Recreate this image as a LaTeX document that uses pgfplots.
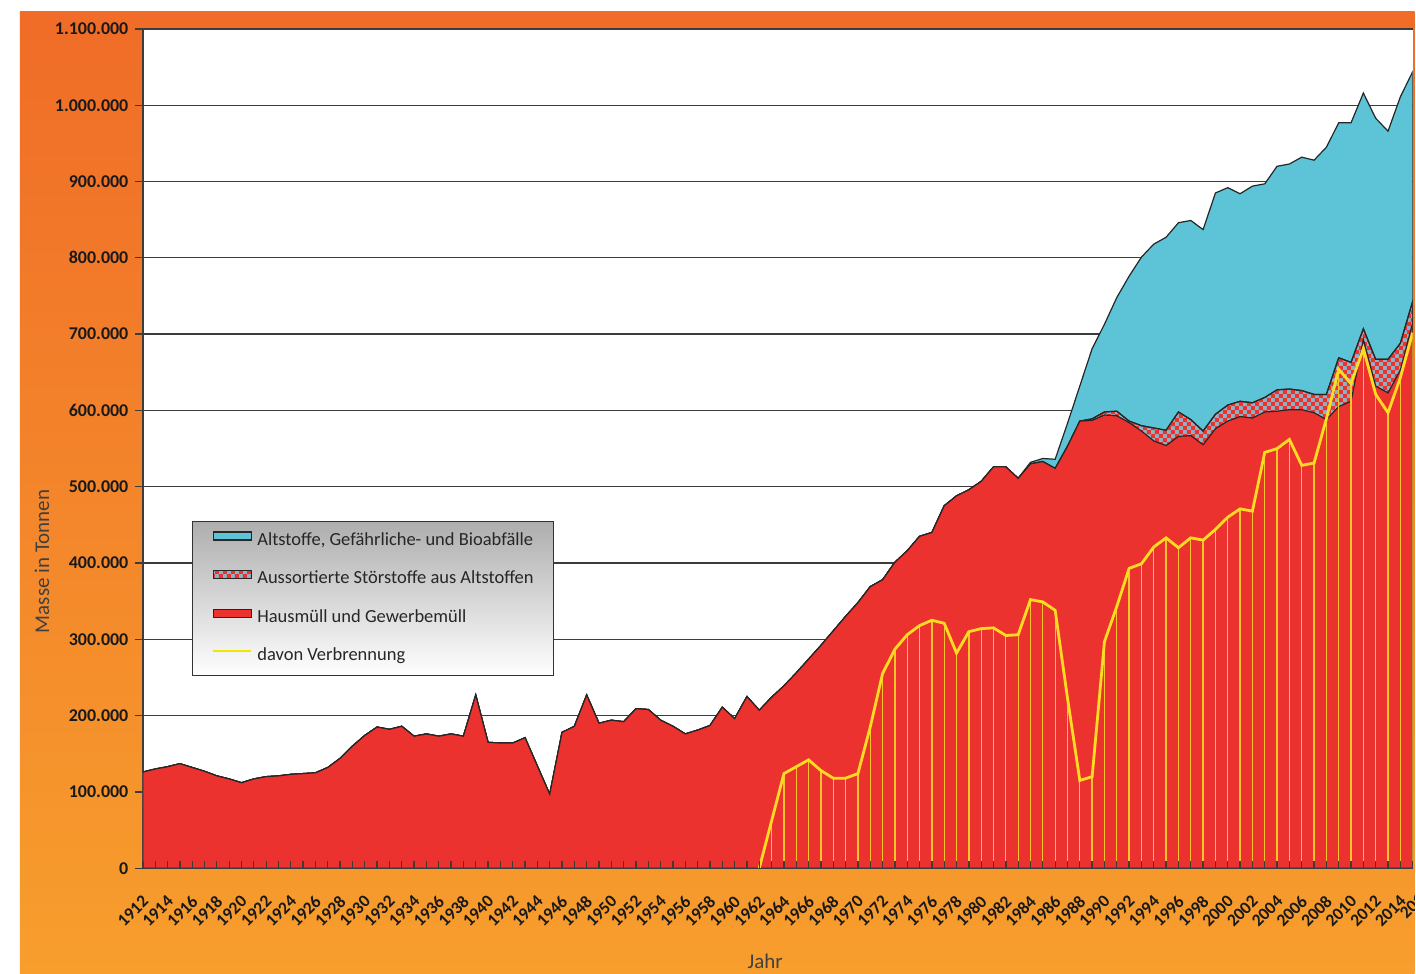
\documentclass[border=0pt]{standalone}
\usepackage{fontspec}
\setmainfont{Carlito}
\usepackage{pgfplots}
\pgfplotsset{compat=1.18}
\usepackage{pgfplotstable}
\usetikzlibrary{patterns}

\pgfdeclarepatternformonly{bigcheck}{\pgfqpoint{0pt}{0pt}}{\pgfqpoint{8pt}{8pt}}{\pgfqpoint{8pt}{8pt}}{%
  \pgfpathrectangle{\pgfqpoint{0pt}{0pt}}{\pgfqpoint{4pt}{4pt}}%
  \pgfpathrectangle{\pgfqpoint{4pt}{4pt}}{\pgfqpoint{4pt}{4pt}}%
  \pgfusepath{fill}}

\definecolor{redA}{RGB}{236,50,46}
\definecolor{cyanA}{RGB}{92,196,214}
\definecolor{checkB}{RGB}{140,178,198}
\definecolor{yelL}{RGB}{255,220,35}
\definecolor{yelD}{RGB}{246,196,40}
\definecolor{yelLeg}{RGB}{240,230,0}
\definecolor{orT}{RGB}{240,108,40}
\definecolor{orB}{RGB}{247,158,45}
\definecolor{gridc}{RGB}{60,60,60}

\pgfplotsset{
  arealeg/.style={legend image code/.code={\draw[##1] (0pt,1pt) rectangle (38pt,9pt);}},
  lineleg/.style={legend image code/.code={\draw[yelLeg, line width=2pt] (0pt,5pt) -- (38pt,5pt);}},
}

\pgfplotstableread{
year red check cyan
1912 126000 0 0
1913 130000 0 0
1914 133000 0 0
1915 137000 0 0
1916 132000 0 0
1917 127000 0 0
1918 121000 0 0
1919 117000 0 0
1920 112000 0 0
1921 117000 0 0
1922 120000 0 0
1923 121000 0 0
1924 123000 0 0
1925 124000 0 0
1926 125000 0 0
1927 132000 0 0
1928 144000 0 0
1929 160000 0 0
1930 174000 0 0
1931 185000 0 0
1932 182000 0 0
1933 186000 0 0
1934 173000 0 0
1935 176000 0 0
1936 173000 0 0
1937 176000 0 0
1938 173000 0 0
1939 227000 0 0
1940 165000 0 0
1941 164000 0 0
1942 164000 0 0
1943 171000 0 0
1944 134000 0 0
1945 97000 0 0
1946 178000 0 0
1947 186000 0 0
1948 227000 0 0
1949 190000 0 0
1950 194000 0 0
1951 192000 0 0
1952 209000 0 0
1953 208000 0 0
1954 194000 0 0
1955 186000 0 0
1956 176000 0 0
1957 181000 0 0
1958 187000 0 0
1959 211000 0 0
1960 196000 0 0
1961 225000 0 0
1962 207000 0 0
1963 224000 0 0
1964 239000 0 0
1965 256000 0 0
1966 274000 0 0
1967 292000 0 0
1968 311000 0 0
1969 330000 0 0
1970 348000 0 0
1971 369000 0 0
1972 378000 0 0
1973 401000 0 0
1974 416000 0 0
1975 435000 0 0
1976 440000 0 0
1977 475000 0 0
1978 488000 0 0
1979 496000 0 0
1980 507000 0 0
1981 526000 0 0
1982 526000 0 0
1983 511000 0 0
1984 530000 0 2000
1985 533000 0 4000
1986 524000 0 12000
1987 553000 0 30000
1988 586000 0 46000
1989 587000 2000 92000
1990 594000 4000 115000
1991 593000 6000 149000
1992 584000 2000 190000
1993 573000 7000 221000
1994 560000 17000 241000
1995 554000 20000 253000
1996 566000 32000 248000
1997 567000 21000 261000
1998 555000 18000 264000
1999 576000 19000 290000
2000 586000 21000 285000
2001 592000 20000 272000
2002 590000 20000 284000
2003 598000 19000 280000
2004 599000 28000 293000
2005 601000 27000 295000
2006 601000 25000 306000
2007 597000 24000 307000
2008 588000 33000 324000
2009 605000 64000 308000
2010 612000 51000 314000
2011 693000 14000 309000
2012 632000 35000 316000
2013 623000 44000 299000
2014 653000 35000 323000
2015 715000 28000 301000
}\datatab

\pgfplotstableread{
year yel
1962 0
1963 62000
1964 124000
1965 133000
1966 142000
1967 128000
1968 118000
1969 118000
1970 124000
1971 185000
1972 255000
1973 287000
1974 306000
1975 318000
1976 325000
1977 321000
1978 282000
1979 310000
1980 314000
1981 315000
1982 305000
1983 306000
1984 352000
1985 349000
1986 338000
1987 223000
1988 115000
1989 120000
1990 297000
1991 343000
1992 393000
1993 399000
1994 421000
1995 433000
1996 420000
1997 433000
1998 430000
1999 444000
2000 460000
2001 471000
2002 468000
2003 545000
2004 550000
2005 562000
2006 528000
2007 531000
2008 589000
2009 654000
2010 635000
2011 681000
2012 621000
2013 597000
2014 643000
2015 702000
}\yeltab

\begin{document}
\begin{tikzpicture}
\fill[white] (0pt,0pt) rectangle (1416pt,974pt);
\shade[top color=orT, bottom color=orB] (20pt,0pt) rectangle (1416pt,962pt);

\begin{axis}[
  at={(143pt,105pt)}, anchor=south west,
  width=1271pt, height=840pt, scale only axis,
  xmin=1912, xmax=2015, ymin=0, ymax=1100000,
  axis background/.style={fill=white},
  axis x line=bottom, axis y line=left,
  axis line style={-, draw=gridc, line width=1.3pt},
  xtick={1912,1914,...,2014},
  xtick style={draw=none},
  ytick={0,100000,...,1100000},
  ytick style={draw=gridc, line width=1.3pt},
  tick align=outside, major tick length=8pt,
  ymajorgrids, grid style={gridc, line width=1.3pt},
  scaled y ticks=false,
  /pgf/number format/assume math mode=true,
  yticklabel style={/pgf/number format/.cd, fixed, 1000 sep={.}, /tikz/.cd,
     xshift=-3pt, font=\bfseries\fontsize{18}{18}\selectfont, text=black!90},
  xticklabel style={/pgf/number format/1000 sep={}, xshift=5pt, yshift=-20pt, rotate=45, anchor=east,
     font=\bfseries\fontsize{17.5}{18}\selectfont, text=black!90},
  xlabel={Jahr},
  xlabel style={at={(axis description cs:0.4901,-0.1107)}, anchor=center,
     font=\fontsize{21}{21}\selectfont, text=black!75},
  ylabel={Masse in Tonnen},
  ylabel style={at={(axis description cs:-0.0795,0.3655)}, anchor=center,
     font=\fontsize{21}{21}\selectfont, text=black!75},
  legend style={at={(axis description cs:0.0386,0.41429)}, anchor=north west,
     draw=black!80, line width=1pt, top color=black!32, bottom color=white,
     inner xsep=20pt, inner ysep=10.5pt, row sep=20pt, column sep=5pt,
     nodes={inner sep=0pt, text height=13pt, text depth=5pt,
            font=\fontsize{18.5}{20}\selectfont, text=black!85}},
  legend cell align=left,
]
\addplot[fill=cyanA, draw=black!85, line width=1.2pt, arealeg]
  table[x=year, y expr=\thisrow{red}+\thisrow{check}+\thisrow{cyan}] {\datatab} \closedcycle;
\addplot[fill=checkB, postaction={pattern=bigcheck, pattern color=redA}, draw=black!85, line width=1.2pt, arealeg]
  table[x=year, y expr=\thisrow{red}+\thisrow{check}] {\datatab} \closedcycle;
\addplot[fill=redA, draw=black!85, line width=1.2pt, arealeg]
  table[x=year, y=red] {\datatab} \closedcycle;
\addplot[ycomb, draw=yelD, line width=1.3pt, forget plot] table[x=year, y=yel] {\yeltab};
\addplot[draw=yelL, line width=2.8pt, lineleg]
  table[x=year, y=yel] {\yeltab};
\legend{Altstoffe{,} Gefährliche- und Bioabfälle, Aussortierte Störstoffe aus Altstoffen, Hausmüll und Gewerbemüll, davon Verbrennung}
\end{axis}

\begin{axis}[
  at={(143pt,105pt)}, anchor=south west,
  width=1271pt, height=840pt, scale only axis,
  xmin=1912, xmax=2015, ymin=0, ymax=1100000,
  axis x line=bottom, axis y line=none,
  axis line style={-, draw=gridc, line width=1.3pt},
  xtick={1912,1913,...,2015}, xticklabels={},
  ytick=\empty,
  tick align=inside, major tick length=7pt,
  xtick style={draw=gridc, line width=1.3pt},
]
\end{axis}

\begin{scope}
\clip (0pt,0pt) rectangle (1416pt,974pt);
\node[overlay, xshift=5pt, yshift=-20pt, rotate=45, anchor=east,
      font=\bfseries\fontsize{17.5}{18}\selectfont, text=black!90]
  at (1426.4pt,105pt) {2016};
\end{scope}
\end{tikzpicture}
\end{document}
